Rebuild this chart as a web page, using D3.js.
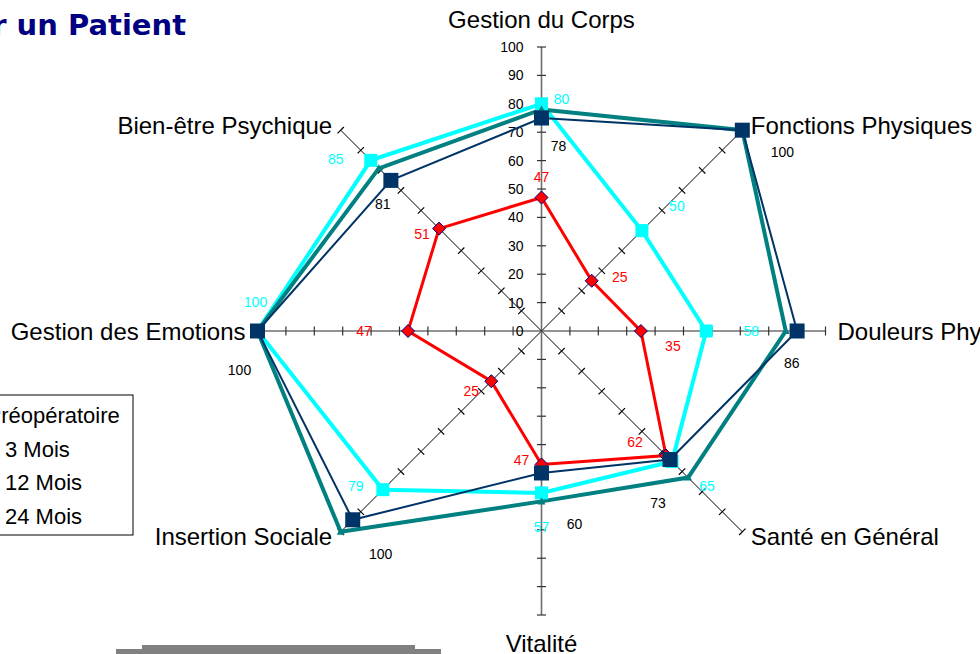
<!DOCTYPE html>
<html><head><meta charset="utf-8">
<script src="https://cdn.jsdelivr.net/npm/d3@7"></script>
<style>body{margin:0;background:#fff}svg{display:block}</style>
</head><body>
<script>
const axesLabels = ["Gestion du Corps","Fonctions Physiques","Douleurs Physiques","Santé en Général","Vitalité","Insertion Sociale","Gestion des Emotions","Bien-être Psychique"];
const preop = [47,25,35,62,47,25,47,51];
const mois3 = [80,50,58,65,57,79,100,85];
const mois12 = [78,100,86,73,60,100,100,81];
const mois24 = [75,100,90,64,50,94,100,75];
const tickValues = [0,10,20,30,40,50,60,70,80,90,100];
const legendLabels = ["Préopératoire","3 Mois","12 Mois","24 Mois"];
const titleText = "r un Patient";

const W=980,H=654,cx=541.5,cy=331;
const svg=d3.select("body").append("svg").attr("width",W).attr("height",H);
const r=d3.scaleLinear().domain([0,100]).range([0,284]);
const ang=d3.scaleLinear().domain([0,axesLabels.length]).range([0,2*Math.PI]);
const pt=(i,v)=>[cx+r(v)*Math.sin(ang(i)),cy-r(v)*Math.cos(ang(i))];
const FONT="Arial,'Liberation Sans',sans-serif";

// title
svg.append("text").attr("x",186).attr("y",35).attr("text-anchor","end")
  .attr("font-family","'Comic Sans MS','DejaVu Sans',sans-serif").attr("font-weight","bold")
  .attr("font-size",29).attr("fill","#000080").text(titleText);

// axes
const gAx=svg.append("g");
axesLabels.forEach((lab,i)=>{
  const a=ang(i), s=Math.sin(a), c=Math.cos(a);
  const ortho=Math.abs(s)<0.1||Math.abs(c)<0.1;
  const e=pt(i,100);
  gAx.append("line").attr("x1",cx).attr("y1",cy).attr("x2",e[0]).attr("y2",e[1])
    .attr("stroke",ortho?"#6e6e6e":"#000").attr("stroke-width",ortho?1.6:1);
  tickValues.slice(1).forEach(t=>{
    const p=pt(i,t);
    gAx.append("line").attr("x1",p[0]-4.5*c).attr("y1",p[1]-4.5*s)
      .attr("x2",p[0]+4.5*c).attr("y2",p[1]+4.5*s)
      .attr("stroke",ortho?"#333":"#000").attr("stroke-width",1.2);
  });
  const dx=s, dy=-c;
  const anchor=dx>0.1?"start":dx<-0.1?"end":"middle";
  svg.append("text").attr("x",e[0]+dx*12).attr("y",e[1]+dy*(Math.abs(dx)<0.1?28:7))
    .attr("text-anchor",anchor).attr("dominant-baseline","central")
    .attr("font-family",FONT).attr("font-size",24)
    .attr("fill","#000").text(lab);
});
// tick labels on first axis
tickValues.forEach(t=>{
  svg.append("text").attr("x",cx-18).attr("y",cy-r(t)).attr("text-anchor","end")
    .attr("dominant-baseline","central").attr("font-family",FONT)
    .attr("font-size",14).attr("fill","#000").text(t);
});

const line=d3.line().curve(d3.curveLinearClosed);
const series=[
  {vals:preop,color:"#ff0000",w:3,marker:"diamond",lab:"#ff0000",
   nudge:[[0,-21],[28,-4],[32,15],[-31,-14],[-20,-4],[-20,10],[-44,0],[-17,5]]},
  {vals:mois3,color:"#00ffff",w:4,marker:"square",lab:"#00ffff",
   nudge:[[20,-5],[35,-25],[45,0],[35,24],[0,34],[-27,-4],[-2,-29],[-35,-1]]},
  {vals:mois12,color:"#008080",w:4,marker:"triangle",lab:"#000",
   nudge:[[17,37],[40,22],[6,32],[-30,25],[33,23],[40,22],[-18,39],[4,36]]},
  {vals:mois24,color:"#003366",w:2,marker:"bigsquare",lab:null,nudge:null}
];
series.forEach(s=>{
  const pts=s.vals.map((v,i)=>pt(i,v));
  svg.append("path").attr("d",line(pts)).attr("fill","none")
    .attr("stroke",s.color).attr("stroke-width",s.w).attr("stroke-linejoin","miter");
});
series.forEach(s=>{
  const pts=s.vals.map((v,i)=>pt(i,v));
  pts.forEach(p=>{
    if(s.marker==="diamond"){
      svg.append("path").attr("d",`M${p[0]},${p[1]-6.5}L${p[0]+6.5},${p[1]}L${p[0]},${p[1]+6.5}L${p[0]-6.5},${p[1]}Z`)
        .attr("fill","#ff0000").attr("stroke","#000080").attr("stroke-width",1);
    } else if(s.marker==="square"){
      svg.append("rect").attr("x",p[0]-6.5).attr("y",p[1]-6.5).attr("width",13).attr("height",13).attr("fill",s.color);
    } else if(s.marker==="bigsquare"){
      svg.append("rect").attr("x",p[0]-7.5).attr("y",p[1]-7.5).attr("width",15).attr("height",15).attr("fill",s.color);
    } else {
      svg.append("path").attr("d",`M${p[0]},${p[1]-4}L${p[0]+4},${p[1]+3}L${p[0]-4},${p[1]+3}Z`).attr("fill",s.color);
    }
  });
});
series.forEach(s=>{
  if(!s.lab) return;
  s.vals.forEach((v,i)=>{
    const p=pt(i,v);
    svg.append("text").attr("x",p[0]+s.nudge[i][0]).attr("y",p[1]+s.nudge[i][1])
      .attr("text-anchor","middle").attr("dominant-baseline","central")
      .attr("font-family",FONT).attr("font-size",14)
      .attr("fill",s.lab).text(v);
  });
});

// legend
svg.append("rect").attr("x",-10).attr("y",395).attr("width",143).attr("height",140)
  .attr("fill","#fff").attr("stroke","#000").attr("stroke-width",1);
legendLabels.forEach((l,i)=>{
  svg.append("text").attr("x",i===0?-13.5:5).attr("y",423+i*33.5)
    .attr("font-family",FONT).attr("font-size",22)
    .attr("fill","#000").text(l);
});

// bottom gray bar
svg.append("rect").attr("x",116).attr("y",649).attr("width",325).attr("height",5).attr("fill","#808080");
svg.append("rect").attr("x",142).attr("y",645).attr("width",273).attr("height",5).attr("fill","#808080");
</script>
</body></html>
